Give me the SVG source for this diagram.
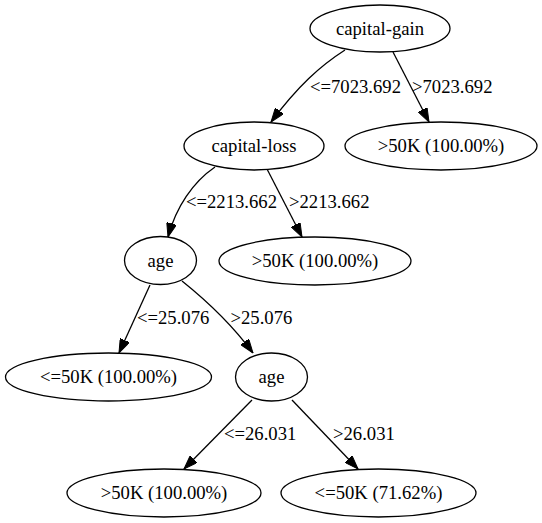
<svg xmlns="http://www.w3.org/2000/svg" width="542" height="523" viewBox="0 0 542 523">
<style>
.n ellipse{fill:#fff;stroke:#000;stroke-width:1.3}
text{font-family:"Liberation Serif","Times New Roman",serif;font-size:18.67px;fill:#000}
.n text{text-anchor:middle}
.e path{fill:none;stroke:#000;stroke-width:1.3;marker-end:url(#arr)}
</style>
<defs>
<marker id="arr" viewBox="0 0 14 10" refX="14" refY="5" markerWidth="14" markerHeight="10" markerUnits="userSpaceOnUse" orient="auto">
<path d="M0,0 L14,5 L0,10 z" fill="#000" stroke="#000" stroke-width="1"/>
</marker>
</defs>
<rect width="542" height="523" fill="#fff"/>
<g id="edges" class="e">
<path d="M345,50 C320,66 298,86 271,122"/>
<path d="M393,52 L429,122"/>
<path d="M215,167 C193,182 176,207 168,237"/>
<path d="M267,169 L302,237"/>
<path d="M150,285 L119,353"/>
<path d="M182,281 C202,297 230,322 253,353"/>
<path d="M252,400 L184,469"/>
<path d="M292,400 L358,469"/>
<text x="310" y="93">&lt;=7023.692</text>
<text x="412" y="93">&gt;7023.692</text>
<text x="186" y="208">&lt;=2213.662</text>
<text x="289" y="208">&gt;2213.662</text>
<text x="137" y="324">&lt;=25.076</text>
<text x="230.5" y="324">&gt;25.076</text>
<text x="224" y="440">&lt;=26.031</text>
<text x="333" y="440">&gt;26.031</text>
</g>
<g id="n0" class="n"><ellipse cx="380" cy="28.5" rx="70" ry="23.5"/><text x="380" y="34.5">capital-gain</text></g>
<g id="n1" class="n"><ellipse cx="254" cy="146" rx="70" ry="24"/><text x="254" y="152">capital-loss</text></g>
<g id="n2" class="n"><ellipse cx="441" cy="146" rx="96" ry="24"/><text x="441" y="152">&gt;50K (100.00%)</text></g>
<g id="n3" class="n"><ellipse cx="160.5" cy="260.5" rx="36" ry="24"/><text x="160.5" y="266.5">age</text></g>
<g id="n4" class="n"><ellipse cx="315" cy="261" rx="96" ry="24"/><text x="315" y="267">&gt;50K (100.00%)</text></g>
<g id="n5" class="n"><ellipse cx="108.5" cy="377" rx="103" ry="24"/><text x="108.5" y="383">&lt;=50K (100.00%)</text></g>
<g id="n6" class="n"><ellipse cx="271.5" cy="377" rx="36" ry="24"/><text x="271.5" y="383">age</text></g>
<g id="n7" class="n"><ellipse cx="164" cy="493" rx="97" ry="24"/><text x="164" y="499">&gt;50K (100.00%)</text></g>
<g id="n8" class="n"><ellipse cx="378.5" cy="493" rx="97.5" ry="24"/><text x="378.5" y="499">&lt;=50K (71.62%)</text></g>
</svg>
